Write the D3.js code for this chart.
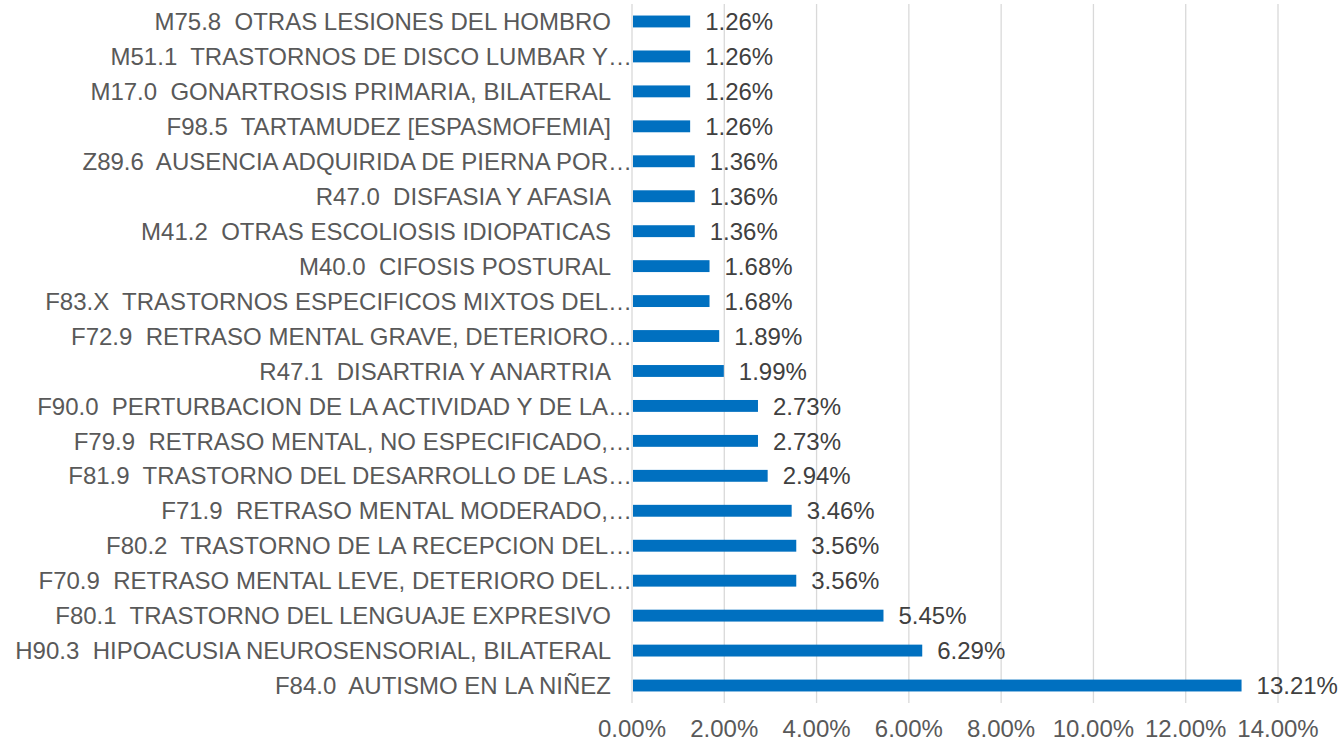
<html>
<head>
<meta charset="utf-8">
<script src="https://d3js.org/d3.v7.min.js"></script>
<style>
  body { margin: 0; background: #fff; }
  text { font-family: "Liberation Sans", Arial, sans-serif; white-space: pre; }
</style>
</head>
<body>
<div id="chart"></div>
<script>
var categories = [
  "M75.8  OTRAS LESIONES DEL HOMBRO",
  "M51.1  TRASTORNOS DE DISCO LUMBAR Y\u2026",
  "M17.0  GONARTROSIS PRIMARIA, BILATERAL",
  "F98.5  TARTAMUDEZ [ESPASMOFEMIA]",
  "Z89.6  AUSENCIA ADQUIRIDA DE PIERNA POR\u2026",
  "R47.0  DISFASIA Y AFASIA",
  "M41.2  OTRAS ESCOLIOSIS IDIOPATICAS",
  "M40.0  CIFOSIS POSTURAL",
  "F83.X  TRASTORNOS ESPECIFICOS MIXTOS DEL\u2026",
  "F72.9  RETRASO MENTAL GRAVE, DETERIORO\u2026",
  "R47.1  DISARTRIA Y ANARTRIA",
  "F90.0  PERTURBACION DE LA ACTIVIDAD Y DE LA\u2026",
  "F79.9  RETRASO MENTAL, NO ESPECIFICADO,\u2026",
  "F81.9  TRASTORNO DEL DESARROLLO DE LAS\u2026",
  "F71.9  RETRASO MENTAL MODERADO,\u2026",
  "F80.2  TRASTORNO DE LA RECEPCION DEL\u2026",
  "F70.9  RETRASO MENTAL LEVE, DETERIORO DEL\u2026",
  "F80.1  TRASTORNO DEL LENGUAJE EXPRESIVO",
  "H90.3  HIPOACUSIA NEUROSENSORIAL, BILATERAL",
  "F84.0  AUTISMO EN LA NI\u00d1EZ"
];
var values = [1.26, 1.26, 1.26, 1.26, 1.36, 1.36, 1.36, 1.68, 1.68, 1.89,
              1.99, 2.73, 2.73, 2.94, 3.46, 3.56, 3.56, 5.45, 6.29, 13.21];
var ticks = [0, 2, 4, 6, 8, 10, 12, 14];

var W = 1342, H = 742;
var plotLeft = 632, plotRight = 1278, plotTop = 4, plotBottom = 703;

var svg = d3.select("#chart").append("svg")
    .attr("width", W).attr("height", H);

var xs = d3.scaleLinear().domain([0, 14]).range([plotLeft, plotRight]);
var ys = d3.scaleBand().domain(categories).range([plotTop, plotBottom])
    .paddingInner(0.66).paddingOuter(0.33);

// gridlines
svg.append("g").selectAll("line").data(ticks).enter().append("line")
    .attr("x1", function(d) { return xs(d); })
    .attr("x2", function(d) { return xs(d); })
    .attr("y1", plotTop).attr("y2", plotBottom)
    .attr("stroke", "#d9d9d9").attr("stroke-width", 1.3);

// x tick labels
svg.append("g").selectAll("text").data(ticks).enter().append("text")
    .attr("x", function(d) { return xs(d); })
    .attr("y", 737)
    .attr("text-anchor", "middle")
    .attr("fill", "#595959")
    .style("font-size", "24px")
    .text(function(d) { return d.toFixed(2) + "%"; });

// bars
svg.append("g").selectAll("rect").data(values).enter().append("rect")
    .attr("x", xs(0) + 1)
    .attr("y", function(d, i) { return ys(categories[i]); })
    .attr("width", function(d) { return xs(d) - xs(0) - 1; })
    .attr("height", ys.bandwidth())
    .attr("fill", "#0070c0");

// category labels (truncated ones run up to the axis)
svg.append("g").selectAll("text").data(categories).enter().append("text")
    .attr("x", function(d) { return d.slice(-1) == "\u2026" ? plotLeft : plotLeft - 21; })
    .attr("y", function(d) { return ys(d) + ys.bandwidth() / 2; })
    .attr("dy", "0.36em")
    .attr("text-anchor", "end")
    .attr("fill", "#595959")
    .style("font-size", "24px")
    .text(function(d) { return d; });

// value labels
svg.append("g").selectAll("text").data(values).enter().append("text")
    .attr("x", function(d) { return xs(d) + 15; })
    .attr("y", function(d, i) { return ys(categories[i]) + ys.bandwidth() / 2; })
    .attr("dy", "0.36em")
    .attr("fill", "#404040")
    .style("font-size", "24px")
    .text(function(d) { return d.toFixed(2) + "%"; });
</script>
</body>
</html>
